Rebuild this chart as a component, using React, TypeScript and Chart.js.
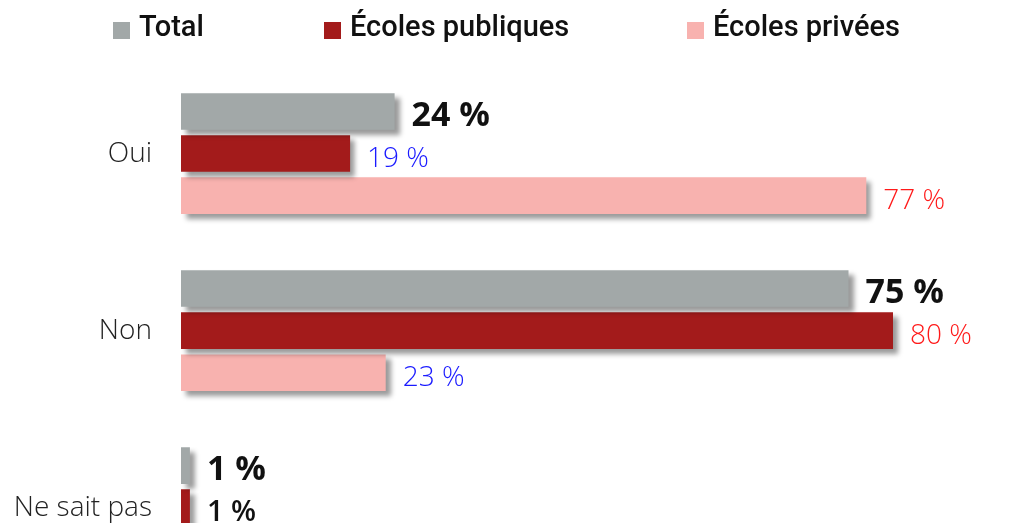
import React, { useEffect, useRef } from "react";
import { Chart, registerables } from "chart.js";

Chart.register(...registerables);

const categories = ["Oui", "Non", "Ne sait pas"];
const seriesLabels = ["Total", "Écoles publiques", "Écoles privées"];
const totalValues = [24, 75, 1];
const publicValues = [19, 80, 1];
const privateValues = [77, 23, 0];
const seriesColors = ["#a2a8a8", "#a31b1b", "#f8b2af"];

const legendX = [113, 324, 687];

const shadowPlugin = {
  id: "barShadow",
  beforeDatasetsDraw(chart: any) {
    const ctx = chart.ctx;
    ctx.save();
    ctx.shadowColor = "rgba(0,0,0,0.4)";
    ctx.shadowBlur = 5;
    ctx.shadowOffsetX = 5;
    ctx.shadowOffsetY = 5;
  },
  afterDatasetsDraw(chart: any) {
    chart.ctx.restore();
  },
};

const valueLabelPlugin = {
  id: "valueLabels",
  afterDraw(chart: any) {
    const ctx = chart.ctx;
    ctx.save();
    ctx.textBaseline = "middle";
    ctx.textAlign = "left";
    const totals = chart.data.datasets[0].data;
    chart.data.datasets.forEach((ds: any, di: number) => {
      const meta = chart.getDatasetMeta(di);
      meta.data.forEach((el: any, i: number) => {
        const v = ds.data[i];
        const text = v + " %";
        if (di === 0) {
          ctx.font = "700 34px 'Open Sans'";
          ctx.fillStyle = "#111";
        } else {
          ctx.font = "300 28px 'Open Sans'";
          const t = totals[i];
          ctx.fillStyle = v < t ? "#1a1aff" : v > t ? "#ff1a1a" : "#111";
          if (v === t) ctx.font = "600 29px 'Open Sans'";
        }
        ctx.fillText(text, el.x + 17, el.y + 5);
      });
    });
    ctx.restore();
  },
};

const legendPlugin = {
  id: "customLegend",
  afterDraw(chart: any) {
    const ctx = chart.ctx;
    ctx.save();
    ctx.textBaseline = "middle";
    ctx.textAlign = "left";
    ctx.font = "500 29px Roboto";
    chart.data.datasets.forEach((ds: any, di: number) => {
      const x = legendX[di];
      ctx.fillStyle = ds.backgroundColor;
      ctx.fillRect(x, 22, 17, 17);
      ctx.fillStyle = "#111";
      ctx.fillText(ds.label, x + 26, 29);
    });
    ctx.restore();
  },
};

export default function App() {
  const ref = useRef<HTMLCanvasElement>(null);
  useEffect(() => {
    if (!ref.current) return;
    const chart = new Chart(ref.current, {
      type: "bar",
      data: {
        labels: categories,
        datasets: [
          { label: seriesLabels[0], data: totalValues, backgroundColor: seriesColors[0] },
          { label: seriesLabels[1], data: publicValues, backgroundColor: seriesColors[1] },
          { label: seriesLabels[2], data: privateValues, backgroundColor: seriesColors[2] },
        ],
      },
      options: {
        indexAxis: "y",
        responsive: false,
        animation: false,
        categoryPercentage: 0.713,
        barPercentage: 0.87,
        layout: { padding: { top: 65, bottom: 5, right: 54, left: 0 } },
        plugins: {
          legend: { display: false },
          tooltip: { enabled: false },
        },
        scales: {
          x: { display: false, min: 0, max: 90 },
          y: {
            grid: { display: false, drawTicks: false },
            border: { display: false },
            ticks: {
              padding: 29,
              color: "#222",
              font: { family: "'Open Sans'", size: 28, weight: "300" as any },
            },
            afterFit(scale: any) {
              scale.width = 181;
            },
          },
        },
      } as any,
      plugins: [shadowPlugin, valueLabelPlugin, legendPlugin],
    });
    return () => chart.destroy();
  }, []);
  return (
    <div style={{ position: "fixed", left: 0, top: 0, width: 1036, height: 642, background: "#fff" }}>
      <canvas ref={ref} width={1036} height={642} />
    </div>
  );
}
